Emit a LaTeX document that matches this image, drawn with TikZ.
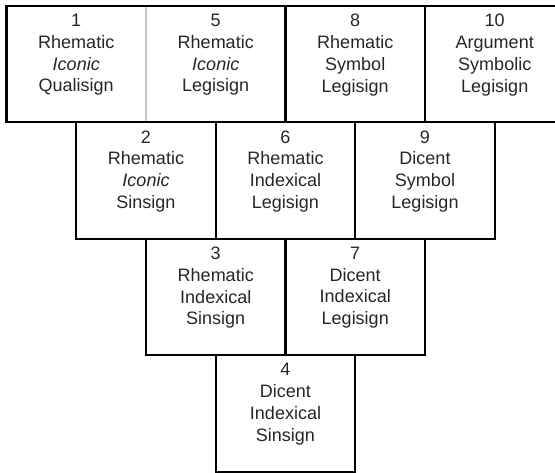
\documentclass[tikz,border=0pt]{standalone}
\usepackage{fontspec}
\setmainfont{Liberation Sans}
\usepackage{tikz}
\usetikzlibrary{positioning}

\tikzset{
  sign/.style={draw, line width=2.2pt, minimum width=139.5pt, minimum height=116.4pt,
               inner sep=0pt, outer sep=0pt},
  signtext/.style={anchor=north, align=center, inner sep=0pt, yshift=-8pt,
                   text=black!85, font=\fontsize{18}{21.8}\selectfont}
}

\begin{document}
\begin{tikzpicture}[x=1pt, y=-1pt]
  \useasboundingbox (0,0) rectangle (555,473);

  % top row
  \node[sign, anchor=north west] (b1)  at (6.5,6)           {};
  \node[sign, right=0pt of b1]   (b5)                        {};
  \node[sign, right=0pt of b5]   (b8)                        {};
  \node[sign, right=0pt of b8]   (b10)                       {};
  % second row
  \node[sign, below=0pt of b1.south east] (b2)               {};
  \node[sign, right=0pt of b2]            (b6)               {};
  \node[sign, right=0pt of b6]            (b9)               {};
  % third row
  \node[sign, below=0pt of b2.south east] (b3)               {};
  \node[sign, right=0pt of b3]            (b7)               {};
  % bottom
  \node[sign, below=0pt of b3.south east] (b4)               {};

  \draw[black!22, line width=2.2pt, shorten <=1.2pt, shorten >=1.2pt] (b1.north east) -- (b1.south east);

  \node[signtext] (t1)  at (b1.north)  {1\\Rhematic\\\textit{Iconic}\\Qualisign};
  \node[signtext] (t5)  at (b5.north)  {5\\Rhematic\\\textit{Iconic}\\Legisign};
  \node[signtext] (t8)  at (b8.north)  {8\\Rhematic\\Symbol\\Legisign};
  \node[signtext] (t10) at (b10.north) {10\\Argument\\Symbolic\\Legisign};
  \node[signtext] (t2)  at (b2.north)  {2\\Rhematic\\\textit{Iconic}\\Sinsign};
  \node[signtext] (t6)  at (b6.north)  {6\\Rhematic\\Indexical\\Legisign};
  \node[signtext] (t9)  at (b9.north)  {9\\Dicent\\Symbol\\Legisign};
  \node[signtext] (t3)  at (b3.north)  {3\\Rhematic\\Indexical\\Sinsign};
  \node[signtext] (t7)  at (b7.north)  {7\\Dicent\\Indexical\\Legisign};
  \node[signtext] (t4)  at (b4.north)  {4\\Dicent\\Indexical\\Sinsign};

\end{tikzpicture}
\end{document}
